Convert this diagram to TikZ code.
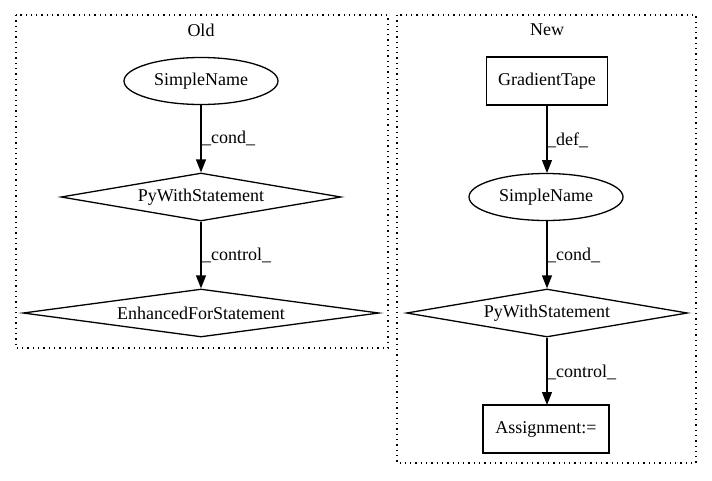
\documentclass[tikz,border=0pt]{standalone}
\usepackage{fontspec}
\setmainfont{Liberation Serif}
\usetikzlibrary{shapes.geometric,arrows.meta}
\begin{document}
\begin{tikzpicture}[x=1pt,y=-1pt,
  every node/.style={font=\fontsize{18}{20}\selectfont, inner sep=0pt},
  cluster/.style={draw, line width=1.3pt, dash pattern=on 1.3pt off 4pt},
  ell/.style={draw, line width=1.3pt, ellipse, minimum width=154pt, minimum height=47pt},
  dia/.style={draw, line width=1.3pt, diamond, minimum height=48pt},
  boxn/.style={draw, line width=1.3pt, rectangle, minimum height=48pt},
  conn/.style={line width=1.3pt, -{Triangle[length=13pt,width=10pt]}},
  elab/.style={anchor=west}]
\useasboundingbox (0,0) rectangle (712,480);
% clusters
\draw[cluster] (16,15) rectangle (388,348);
\node (oldt) at (201,30) {Old};
\draw[cluster] (397,15) rectangle (696,463);
\node (newt) at (547,30) {New};
% Old
\node[ell] (osn) at (201,81) {SimpleName};
\node[dia, minimum width=280pt] (opw) at (201,197) {};
\node (opwt) at (201,197) {PyWithStatement};
\node[dia, minimum width=356pt] (oef) at (201,313) {};
\node (oeft) at (201,313) {EnhancedForStatement};
\draw[conn] (osn) -- (opw.north);
\draw[conn] (opw.south) -- (oef.north);
\node[elab] (l1) at (202,138) {\_cond\_};
\node[elab] (l2) at (202,255) {\_control\_};
% New
\node[boxn, minimum width=121pt] (ngt) at (547,81) {GradientTape};
\coordinate (nsntop) at (547,173);
\node[ell] (nsn) at (546,197) {SimpleName};
\node[dia, minimum width=281pt] (npw) at (547,313) {};
\node (npwt) at (547,313) {PyWithStatement};
\node[boxn, minimum width=126pt] (nas) at (546,429) {Assignment:=};
\coordinate (nastop) at (547,405);
\coordinate (nsnbot) at (547,221);
\coordinate (ngtbot) at (547,105);
\draw[conn] (ngtbot) -- (nsntop);
\draw[conn] (nsnbot) -- (npw.north);
\draw[conn] (npw.south) -- (nastop);
\node[elab] (l3) at (547,140) {\_def\_};
\node[elab] (l4) at (547,255) {\_cond\_};
\node[elab] (l5) at (547,372) {\_control\_};
\end{tikzpicture}
\end{document}
